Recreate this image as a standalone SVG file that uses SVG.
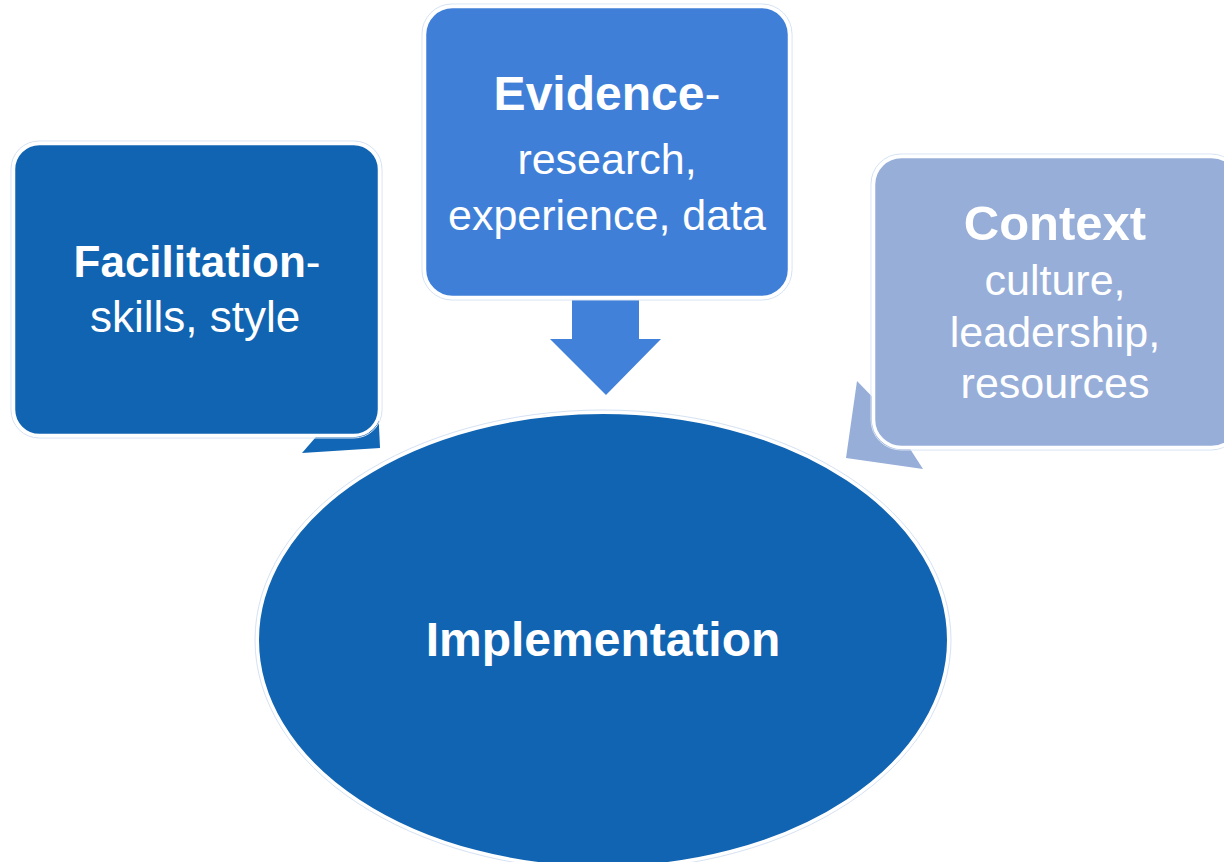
<svg xmlns="http://www.w3.org/2000/svg" width="1224" height="862" viewBox="0 0 1224 862">
<style>
.box{stroke:#ffffff;stroke-width:3.5}
.halo{fill:none;stroke:#d5e2f4;stroke-width:1}
.t{font-family:"Liberation Sans",Arial,sans-serif;fill:#ffffff;text-anchor:middle}
.b{font-weight:bold}
</style>
<rect width="1224" height="862" fill="#ffffff"/>
<g id="connectors">
<polygon points="335,415 302,453 380,448 378,405" fill="#1166b6"/>
<polygon points="572,300 639,300 639,339 661,339 606,395 550,339 572,339" fill="#4281d9"/>
<polygon points="857,381 846,458 923,469 885,410" fill="#97aed9"/>
</g>
<g id="node-facilitation">
<rect x="11" y="141" width="371" height="297" rx="28" class="halo"/>
<rect x="13.5" y="143.5" width="366" height="292" rx="26" fill="#1064b2" class="box"/>
<text class="t" x="197" y="277" font-size="44"><tspan class="b">Facilitation</tspan>-</text>
<text class="t" x="195" y="332" font-size="44">skills, style</text>
</g>
<g id="node-evidence">
<rect x="422" y="4" width="370" height="296" rx="30" class="halo"/>
<rect x="424.5" y="6.5" width="365" height="291" rx="28" fill="#3f7fd8" class="box"/>
<text class="t" x="607" y="110" font-size="48"><tspan class="b">Evidence</tspan>-</text>
<text class="t" x="607" y="174" font-size="43">research,</text>
<text class="t" x="607" y="230" font-size="43">experience, data</text>
</g>
<g id="node-context">
<rect x="871" y="154" width="370" height="296" rx="30" class="halo"/>
<rect x="873.5" y="156.5" width="366" height="291" rx="28" fill="#97aed9" class="box"/>
<text class="t b" x="1055" y="240" font-size="49">Context</text>
<text class="t" x="1055" y="295" font-size="43">culture,</text>
<text class="t" x="1055" y="347" font-size="43">leadership,</text>
<text class="t" x="1055" y="398" font-size="43">resources</text>
</g>
<g id="node-implementation">
<ellipse cx="603" cy="640" rx="348" ry="230" class="halo"/>
<ellipse cx="603" cy="640" rx="345" ry="227" fill="#1064b2" stroke="#ffffff" stroke-width="2"/>
<text class="t b" x="603" y="656" font-size="48">Implementation</text>
</g>
</svg>
